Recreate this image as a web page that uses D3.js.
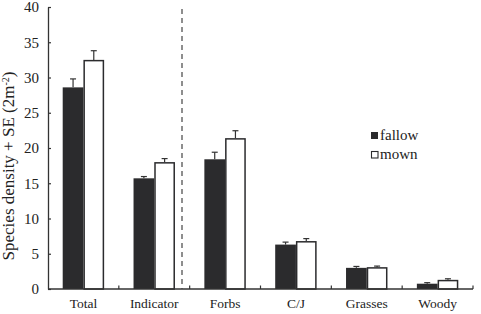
<!DOCTYPE html>
<html><head><meta charset="utf-8">
<script src="https://cdn.jsdelivr.net/npm/d3@7"></script>
<style>body{margin:0;background:#fff}svg{display:block}text{font-family:"Liberation Serif","Times New Roman",serif;fill:#222}</style>
</head><body><svg id="c" width="481" height="314"></svg>
<script>
const categories = ["Total","Indicator","Forbs","C/J","Grasses","Woody"];
const series = ["fallow","mown"];
const fallow = [28.6, 15.7, 18.4, 6.3, 3.0, 0.75];
const fallowSE = [1.2, 0.25, 1.0, 0.35, 0.2, 0.15];
const mown = [32.5, 18.0, 21.4, 6.8, 3.1, 1.3];
const mownSE = [1.3, 0.5, 1.05, 0.35, 0.15, 0.15];
const yTicks = [0,5,10,15,20,25,30,35,40];

const svg = d3.select("#c");
const x = d3.scaleBand().domain(categories).range([48,473]).paddingInner(0.415).paddingOuter(0.2075);
const xs = d3.scaleBand().domain(series).range([0,x.bandwidth()]);
const y = d3.scaleLinear().domain([0,40]).range([289,7]);
const col = {fallow:"#2b2b2d", mown:"#ffffff"};
const data = series.map(s => ({s, v: s==="fallow"?fallow:mown, e: s==="fallow"?fallowSE:mownSE}));

// bars
data.forEach(d => {
  const g = svg.append("g");
  categories.forEach((c,i) => {
    const bx = x(c)+xs(d.s), bw = xs.bandwidth();
    const cx = bx + bw/2;
    g.append("line").attr("x1",cx).attr("x2",cx).attr("y1",y(d.v[i])).attr("y2",y(d.v[i]+d.e[i])).attr("stroke","#333").attr("stroke-width",1.2);
    g.append("line").attr("x1",cx-3).attr("x2",cx+3).attr("y1",y(d.v[i]+d.e[i])).attr("y2",y(d.v[i]+d.e[i])).attr("stroke","#333").attr("stroke-width",1.2);
    if (d.s==="fallow") {
      g.append("rect").attr("x",bx).attr("y",y(d.v[i])).attr("width",bw).attr("height",y(0)-y(d.v[i])).attr("fill",col.fallow);
    } else {
      g.append("rect").attr("x",bx+0.75).attr("y",y(d.v[i])+0.75).attr("width",bw-1.5).attr("height",y(0)-y(d.v[i])-0.75).attr("fill","#fff").attr("stroke","#2b2b2d").attr("stroke-width",1.5);
    }
  });
});

// y axis
const ya = svg.append("g").attr("transform","translate(48,0)")
  .call(d3.axisLeft(y).tickValues(yTicks).tickSize(-3).tickPadding(9).tickSizeOuter(0));
ya.select(".domain").attr("stroke","#333").attr("stroke-width",1.3);
ya.selectAll(".tick line").attr("stroke","#333").attr("stroke-width",1.2);
ya.selectAll("text").attr("font-size",15).attr("font-family","Liberation Serif").attr("fill","#333");

// x axis
const bounds = d3.range(categories.length+1).map(i => 48 + i*x.step());
const xa = svg.append("g");
xa.append("line").attr("x1",48).attr("x2",473).attr("y1",289).attr("y2",289).attr("stroke","#333").attr("stroke-width",1.3);
xa.selectAll(".bt").data(bounds.slice(1)).enter().append("line")
  .attr("x1",d=>d).attr("x2",d=>d).attr("y1",289).attr("y2",285.5).attr("stroke","#333").attr("stroke-width",1.2);
xa.selectAll(".lab").data(categories).enter().append("text")
  .attr("x",d=>x(d)+x.bandwidth()/2).attr("y",308).attr("text-anchor","middle").attr("font-size",13.5).attr("fill","#333").text(d=>d);

// dashed separator
svg.append("line").attr("x1",182).attr("x2",182).attr("y1",9).attr("y2",289)
  .attr("stroke","#444").attr("stroke-width",1.2).attr("stroke-dasharray","5,4");

// y title
svg.append("text").attr("transform","translate(14,166) rotate(-90)").attr("text-anchor","middle")
  .attr("font-size",17).attr("fill","#333")
  .html('Species density + SE (2m<tspan baseline-shift="super" font-size="10">-2</tspan>)');

// legend
const lg = svg.append("g");
series.forEach((s,i) => {
  const yy = 132 + i*19;
  if (s==="fallow") lg.append("rect").attr("x",371).attr("y",yy).attr("width",7).attr("height",7).attr("fill",col.fallow);
  else lg.append("rect").attr("x",371.5).attr("y",yy+0.5).attr("width",6.5).attr("height",6.5).attr("fill","#fff").attr("stroke","#2b2b2d").attr("stroke-width",1.1);
  lg.append("text").attr("x",380).attr("y",yy+8).attr("font-size",15).attr("fill","#333").text(s);
});
</script></body></html>
